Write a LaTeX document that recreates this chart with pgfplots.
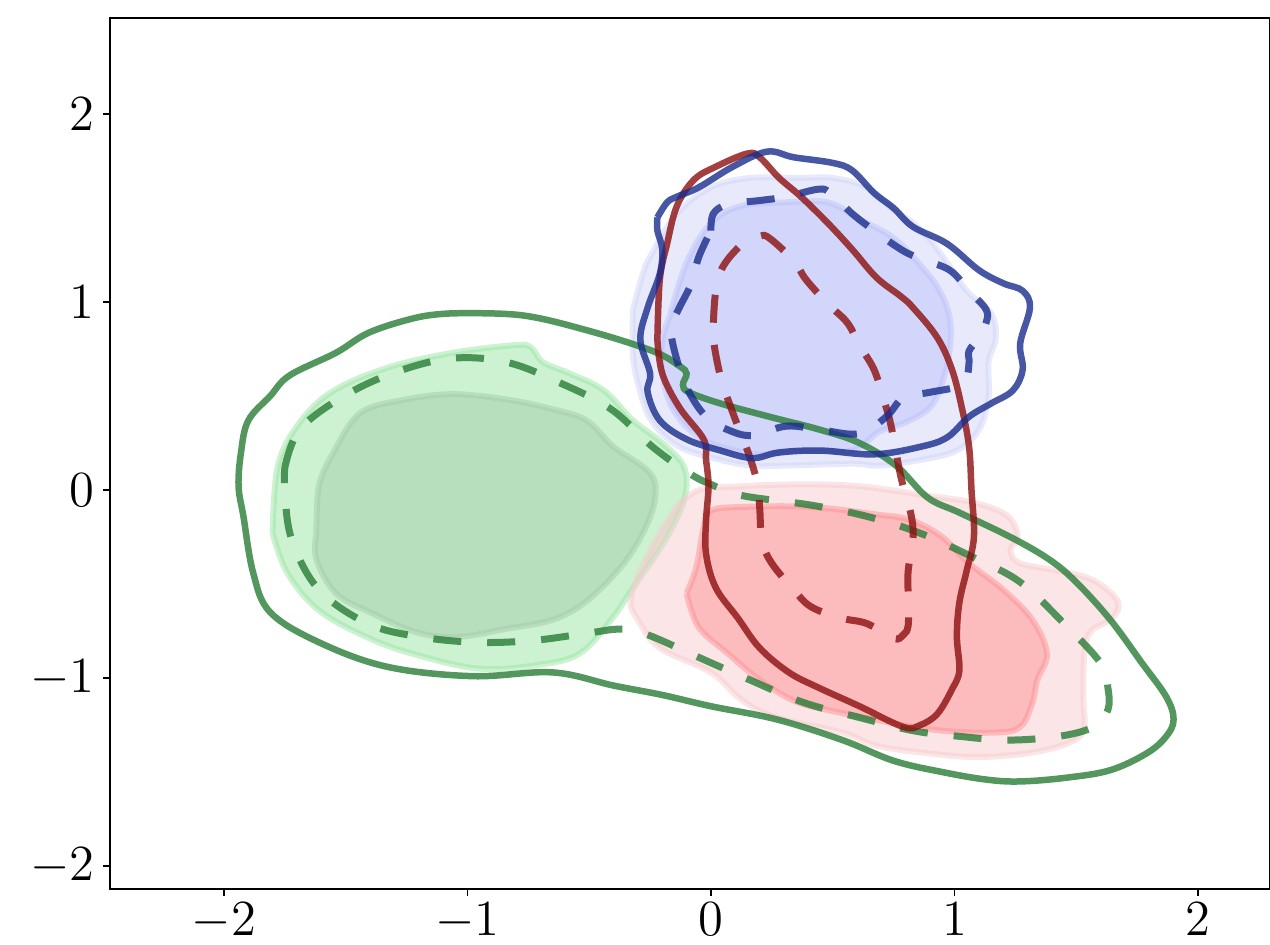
\documentclass[border=0pt]{standalone}
\usepackage{pgfplots}
\pgfplotsset{compat=1.18}
\definecolor{gLine}{RGB}{40,125,55}
\definecolor{bLine}{RGB}{25,45,140}
\definecolor{rLine}{RGB}{140,15,15}
\definecolor{gOut}{RGB}{155,229,165}
\definecolor{gIn}{RGB}{165,204,170}
\definecolor{bOut}{RGB}{209,213,249}
\definecolor{bIn}{RGB}{188,194,248}
\definecolor{rOut}{RGB}{247,203,205}
\definecolor{rIn}{RGB}{253,147,150}
\begin{document}
\begin{tikzpicture}
\begin{axis}[
  at={(0,0)}, anchor=south west,
  scale only axis, width=116mm, height=87.1mm,
  xmin=-2.468, xmax=2.296, ymin=-2.122, ymax=2.511,
  xtick={-2,-1,0,1,2}, ytick={-2,-1,0,1,2},
  tick align=outside, xtick pos=left, ytick pos=left,
  major tick length=0.7mm,
  every tick/.style={black, line width=0.12mm},
  axis line style={line width=0.12mm},
  tick label style={font=\fontsize{14.4}{17}\selectfont},
  yticklabel style={inner sep=0pt, xshift=-0.8mm},
  xticklabel style={inner sep=0pt, yshift=-0.6mm},
  fillA/.style={smooth, tension=0.6, fill=#1, draw=#1, fill opacity=0.5, draw opacity=0.5, line width=0.6mm},
  solidL/.style={smooth, tension=0.6, draw=#1, draw opacity=0.8, line width=0.65mm},
  dashL/.style={smooth, tension=0.6, draw=#1, draw opacity=0.8, line width=0.7mm, dash pattern=on 2.8mm off 2.6mm},
]
% ---------- green fills ----------
\addplot[fillA=gOut] coordinates {
(-1.80,-0.23) (-1.78,0.12) (-1.70,0.34) (-1.56,0.52) (-1.33,0.65) (-1.06,0.73) (-0.81,0.77) (-0.74,0.76) (-0.69,0.68) (-0.58,0.62) (-0.44,0.53) (-0.32,0.37) (-0.20,0.25) (-0.11,0.12) (-0.11,-0.05) (-0.19,-0.27) (-0.32,-0.52) (-0.41,-0.69) (-0.54,-0.87) (-0.71,-0.93) (-0.95,-0.95) (-1.20,-0.88) (-1.40,-0.79) (-1.61,-0.64) (-1.74,-0.44) (-1.80,-0.23)};
\addplot[fillA=gIn] coordinates {
(-1.62,-0.23) (-1.61,0.02) (-1.55,0.20) (-1.44,0.41) (-1.26,0.48) (-1.06,0.51) (-0.83,0.48) (-0.65,0.43) (-0.51,0.37) (-0.40,0.23) (-0.25,0.09) (-0.23,-0.05) (-0.28,-0.23) (-0.37,-0.41) (-0.51,-0.59) (-0.65,-0.69) (-0.85,-0.74) (-1.03,-0.78) (-1.20,-0.76) (-1.40,-0.65) (-1.54,-0.55) (-1.62,-0.37) (-1.62,-0.23)};
% ---------- red fills ----------
\addplot[fillA=rOut] coordinates {
(-0.14,-0.09) (-0.05,0.00) (0.12,0.02) (0.37,0.03) (0.61,0.02) (0.89,-0.03) (1.09,-0.07) (1.22,-0.14) (1.26,-0.25) (1.23,-0.32) (1.27,-0.39) (1.43,-0.43) (1.57,-0.48) (1.67,-0.59) (1.65,-0.68) (1.57,-0.74) (1.54,-0.81) (1.53,-0.96) (1.53,-1.13) (1.53,-1.28) (1.46,-1.35) (1.30,-1.40) (1.09,-1.42) (0.89,-1.40) (0.68,-1.36) (0.54,-1.29) (0.27,-1.21) (0.13,-1.12) (0.00,-0.97) (-0.21,-0.84) (-0.30,-0.69) (-0.33,-0.59) (-0.29,-0.43) (-0.21,-0.23) (-0.14,-0.09)};
\addplot[fillA=rIn] coordinates {
(-0.10,-0.55) (-0.06,-0.41) (-0.03,-0.20) (0.00,-0.11) (0.13,-0.09) (0.41,-0.09) (0.68,-0.13) (0.82,-0.16) (0.95,-0.25) (1.06,-0.39) (1.20,-0.53) (1.32,-0.69) (1.38,-0.87) (1.34,-1.01) (1.32,-1.13) (1.27,-1.26) (1.16,-1.29) (0.95,-1.28) (0.75,-1.24) (0.48,-1.17) (0.34,-1.12) (0.20,-1.01) (0.07,-0.87) (-0.05,-0.73) (-0.10,-0.55)};
% ---------- blue fills ----------
\addplot[fillA=bOut] coordinates {
(-0.32,0.96) (-0.28,1.15) (-0.25,1.24) (-0.14,1.47) (0.00,1.61) (0.16,1.66) (0.37,1.66) (0.50,1.66) (0.64,1.61) (0.75,1.49) (0.83,1.42) (0.90,1.33) (0.97,1.21) (1.05,1.06) (1.15,0.94) (1.17,0.81) (1.14,0.68) (1.14,0.49) (1.10,0.32) (1.01,0.21) (0.86,0.16) (0.69,0.13) (0.58,0.14) (0.31,0.13) (0.17,0.13) (0.04,0.16) (-0.13,0.23) (-0.24,0.36) (-0.29,0.52) (-0.32,0.71) (-0.32,0.96)};
\addplot[fillA=bIn] coordinates {
(-0.17,0.92) (-0.10,1.21) (0.00,1.42) (0.12,1.51) (0.30,1.53) (0.48,1.53) (0.61,1.44) (0.74,1.35) (0.83,1.24) (0.93,1.08) (0.98,0.92) (0.98,0.74) (0.95,0.57) (0.90,0.44) (0.80,0.36) (0.69,0.31) (0.58,0.21) (0.38,0.21) (0.20,0.19) (0.04,0.23) (-0.07,0.30) (-0.16,0.44) (-0.20,0.62) (-0.20,0.80) (-0.17,0.92)};
% ---------- green lines ----------
\addplot[solidL=gLine] coordinates {
(-1.06,0.94) (-0.78,0.93) (-0.51,0.85) (-0.24,0.74) (-0.13,0.66) (-0.10,0.62) (-0.115,0.56) (-0.09,0.52) (0.04,0.46) (0.24,0.39) (0.45,0.32) (0.61,0.25) (0.76,0.13) (0.89,-0.04) (1.02,-0.12) (1.23,-0.25) (1.39,-0.37) (1.50,-0.49) (1.64,-0.69) (1.77,-0.92) (1.87,-1.10) (1.90,-1.22) (1.87,-1.31) (1.79,-1.40) (1.64,-1.49) (1.46,-1.53) (1.27,-1.55) (1.13,-1.54) (0.95,-1.50) (0.75,-1.44) (0.54,-1.33) (0.27,-1.22) (0.00,-1.15) (-0.20,-1.09) (-0.40,-1.04) (-0.65,-0.97) (-0.98,-0.99) (-1.33,-0.94) (-1.61,-0.81) (-1.81,-0.65) (-1.88,-0.44) (-1.92,-0.14) (-1.94,0.02) (-1.93,0.20) (-1.90,0.37) (-1.81,0.50) (-1.73,0.61) (-1.54,0.73) (-1.40,0.84) (-1.20,0.92) (-1.06,0.94)};
\addplot[dashL=gLine] coordinates {
(-1.75,0.12) (-1.69,0.32) (-1.52,0.49) (-1.31,0.62) (-1.07,0.70) (-0.84,0.68) (-0.62,0.57) (-0.41,0.43) (-0.24,0.23) (-0.09,0.09) (0.00,0.03) (0.13,-0.03) (0.41,-0.08) (0.64,-0.14) (0.86,-0.23) (1.08,-0.36) (1.27,-0.49) (1.45,-0.71) (1.60,-0.92) (1.63,-1.05) (1.63,-1.17) (1.57,-1.26) (1.43,-1.31) (1.22,-1.33) (1.02,-1.31) (0.83,-1.28) (0.61,-1.21) (0.38,-1.13) (0.16,-1.01) (-0.05,-0.89) (-0.26,-0.77) (-0.37,-0.74) (-0.50,-0.76) (-0.73,-0.80) (-0.96,-0.81) (-1.20,-0.78) (-1.41,-0.71) (-1.61,-0.53) (-1.72,-0.27) (-1.75,-0.02) (-1.75,0.12)};
% ---------- red lines ----------
\addplot[solidL=rLine] coordinates {
(-0.22,0.80) (-0.21,1.12) (-0.18,1.31) (-0.14,1.51) (-0.07,1.65) (0.02,1.72) (0.15,1.79) (0.20,1.77) (0.28,1.66) (0.37,1.56) (0.48,1.42) (0.58,1.28) (0.68,1.13) (0.78,1.03) (0.83,0.97) (0.93,0.81) (0.99,0.64) (1.03,0.44) (1.06,0.23) (1.07,0.00) (1.08,-0.25) (1.05,-0.43) (1.02,-0.60) (1.01,-0.78) (1.02,-0.96) (0.99,-1.06) (0.93,-1.19) (0.86,-1.25) (0.79,-1.26) (0.61,-1.15) (0.44,-1.05) (0.32,-0.97) (0.20,-0.84) (0.11,-0.68) (0.02,-0.52) (-0.02,-0.34) (-0.02,-0.16) (-0.01,0.02) (-0.02,0.16) (-0.03,0.27) (-0.13,0.44) (-0.20,0.62) (-0.22,0.80)};
\addplot[dashL=rLine] coordinates {
(0.01,0.89) (0.02,1.06) (0.05,1.19) (0.13,1.31) (0.20,1.35) (0.24,1.34) (0.34,1.22) (0.39,1.12) (0.48,0.99) (0.56,0.89) (0.61,0.77) (0.67,0.64) (0.71,0.48) (0.74,0.34) (0.78,0.07) (0.82,-0.12) (0.83,-0.25) (0.81,-0.43) (0.81,-0.57) (0.81,-0.72) (0.79,-0.77) (0.75,-0.79) (0.64,-0.71) (0.53,-0.68) (0.41,-0.62) (0.34,-0.53) (0.25,-0.39) (0.21,-0.27) (0.20,-0.09) (0.19,0.04) (0.15,0.21) (0.09,0.41) (0.04,0.60) (0.01,0.80) (0.01,0.89)};
% ---------- blue lines ----------
\addplot[solidL=bLine] coordinates {
(-0.22,1.45) (-0.18,1.53) (-0.14,1.56) (-0.05,1.61) (0.09,1.72) (0.23,1.80) (0.34,1.77) (0.50,1.74) (0.58,1.70) (0.67,1.58) (0.75,1.50) (0.83,1.40) (0.97,1.31) (1.10,1.17) (1.20,1.10) (1.28,1.06) (1.31,0.97) (1.27,0.78) (1.28,0.64) (1.24,0.53) (1.15,0.46) (1.06,0.39) (0.97,0.28) (0.86,0.23) (0.67,0.19) (0.45,0.21) (0.28,0.20) (0.17,0.17) (0.04,0.21) (-0.10,0.27) (-0.21,0.37) (-0.26,0.52) (-0.25,0.62) (-0.29,0.80) (-0.26,0.97) (-0.21,1.15) (-0.20,1.28) (-0.22,1.38) (-0.22,1.45)};
\addplot[dashL=bLine] coordinates {
(0.00,1.38) (0.01,1.47) (0.07,1.52) (0.20,1.54) (0.31,1.56) (0.44,1.60) (0.49,1.58) (0.58,1.47) (0.67,1.38) (0.78,1.28) (0.86,1.23) (0.98,1.17) (1.06,1.06) (1.13,0.96) (1.13,0.89) (1.10,0.81) (1.06,0.74) (1.06,0.68) (1.05,0.60) (1.01,0.55) (0.90,0.52) (0.79,0.49) (0.72,0.39) (0.61,0.30) (0.45,0.32) (0.31,0.34) (0.17,0.29) (0.07,0.32) (-0.02,0.39) (-0.09,0.52) (-0.13,0.65) (-0.16,0.80) (-0.16,0.88) (-0.13,0.97) (-0.08,1.10) (-0.05,1.24) (0.00,1.38)};
\end{axis}
\pgfresetboundingbox
\path (-11mm,-5.6mm) rectangle (116mm,88.9mm);
\end{tikzpicture}
\end{document}
